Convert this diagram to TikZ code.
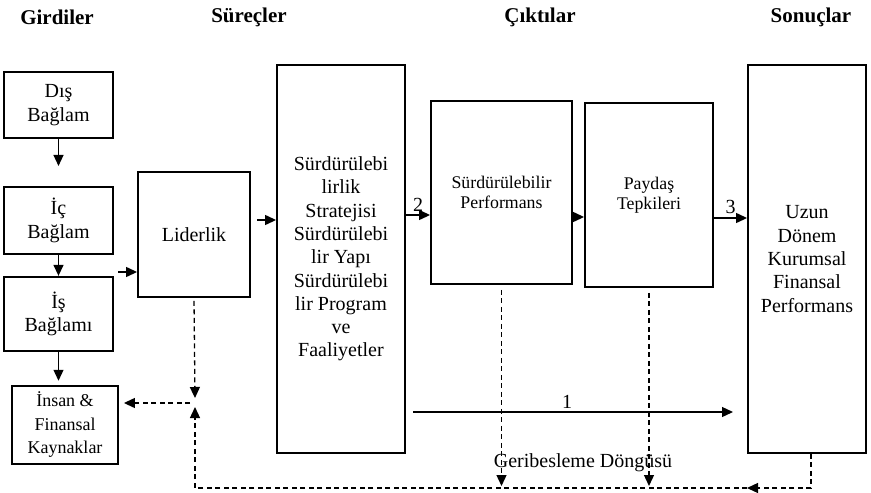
\documentclass[tikz,border=0pt]{standalone}
\usepackage{fontspec}
\setmainfont{Liberation Serif}
\usetikzlibrary{arrows.meta,positioning}

\begin{document}
\begin{tikzpicture}[x=1pt,y=-1pt,>={Triangle[length=11pt,width=10pt]}]
  \tikzset{kutu/.style={draw,line width=1.9pt,align=center,inner sep=2pt,font=\fontsize{20}{23.3}\selectfont}}
  \tikzset{kucuk/.style={kutu,font=\fontsize{17.8}{20}\selectfont}}
  \tikzset{baslik/.style={font=\fontsize{21}{24}\selectfont\bfseries}}
  \tikzset{ok/.style={->,line width=1.3pt}}
  \tikzset{kesik/.style={->,line width=1.3pt,dash pattern=on 5pt off 3.5pt}}
  \useasboundingbox (0,0) rectangle (871,493);
  % basliklar
  \node[baslik] (girdi) at (57,17) {Girdiler};
  \node[baslik] (surec) at (249,17) {Süreçler};
  \node[baslik] (cikti) at (540,17) {Çıktılar};
  \node[baslik] (sonuc) at (811,17) {Sonuçlar};
  % girdiler
  \node[kutu,minimum width=109pt,minimum height=66pt] (dis) at (58.5,105) {Dış\\Bağlam};
  \node[kutu,minimum width=109pt,minimum height=67pt,below=47pt of dis] (ic) {İç\\Bağlam};
  \node[kutu,minimum width=109pt,minimum height=74pt,below=21pt of ic] (is) {İş\\Bağlamı};
  \node[kutu,font=\fontsize{18}{23.3}\selectfont,minimum width=106pt,minimum height=78pt,below=33pt of is,xshift=6.5pt] (insan) {İnsan \&\\Finansal\\Kaynaklar};
  % surecler
  \node[kutu,minimum width=112pt,minimum height=125pt] (lider) at (194,234.5) {Liderlik};
  \node[kutu,minimum width=128pt,minimum height=388pt] (strateji) at (341,259) {Sürdürülebi\\lirlik\\Stratejisi\\Sürdürülebi\\lir Yapı\\Sürdürülebi\\lir Program\\ve\\Faaliyetler};
  % ciktilar
  \node[kucuk,minimum width=141pt,minimum height=183pt] (perf) at (501.5,192.5) {Sürdürülebilir\\Performans};
  \node[kucuk,minimum width=128pt,minimum height=184pt] (paydas) at (649,195) {Paydaş\\Tepkileri};
  % sonuclar
  \node[kutu,minimum width=118pt,minimum height=388pt] (uzun) at (807,259) {Uzun\\Dönem\\Kurumsal\\Finansal\\Performans};
  % yardimci noktalar
  \coordinate (g1) at (118,272);
  \coordinate (g2) at (257,220);
  \coordinate (b1) at (413,412);
  \coordinate (b1e) at (733,412);
  \coordinate (kav) at (195,403);
  \coordinate (alt) at (195,488);
  \coordinate (don) at (747,488);
  % oklar
  \draw[ok,shorten >=20pt] (dis) -- (ic);
  \draw[ok] (ic) -- (is);
  \draw[ok,shorten >=4pt] (is.south) -- (is.south |- insan.north);
  \draw[ok] (g1) -- (g1 -| lider.west);
  \draw[ok] (g2) -- (g2 -| strateji.west);
  \draw[ok] ([yshift=44pt]strateji.east) -- ([yshift=44pt]strateji.east -| perf.west)
    node[midway,above,font=\fontsize{20}{24}\selectfont] {2};
  \draw[ok] ([yshift=-24.5pt]perf.east) -- ([yshift=-24.5pt]perf.east -| paydas.west);
  \draw[ok] ([yshift=-23pt]paydas.east) -- ([yshift=-23pt]paydas.east -| uzun.west)
    node[midway,above,font=\fontsize{20}{24}\selectfont] {3};
  \draw[ok] (b1) -- (b1e) node[midway,above,xshift=-6pt,font=\fontsize{20}{24}\selectfont] {1};
  % geribesleme
  \draw[kesik,shorten <=5pt,shorten >=2pt] (perf.south) -- (perf.south |- alt);
  \draw[kesik,shorten <=5pt,shorten >=2pt] (paydas.south) -- (paydas.south |- alt);
  \draw[kesik] ([xshift=4pt]uzun.south) |- (don);
  \draw[kesik] (don) -- (alt) -- ([yshift=-4pt]kav);
  \draw[kesik,shorten <=3pt] (lider.south) -- ([yshift=5pt]kav);
  \draw[kesik,shorten >=5pt] ([xshift=-5pt]kav) -- (kav -| insan.east);
  \node[font=\fontsize{20}{24}\selectfont] (geri) at (583,463) {Geribesleme Döngüsü};
\end{tikzpicture}
\end{document}
